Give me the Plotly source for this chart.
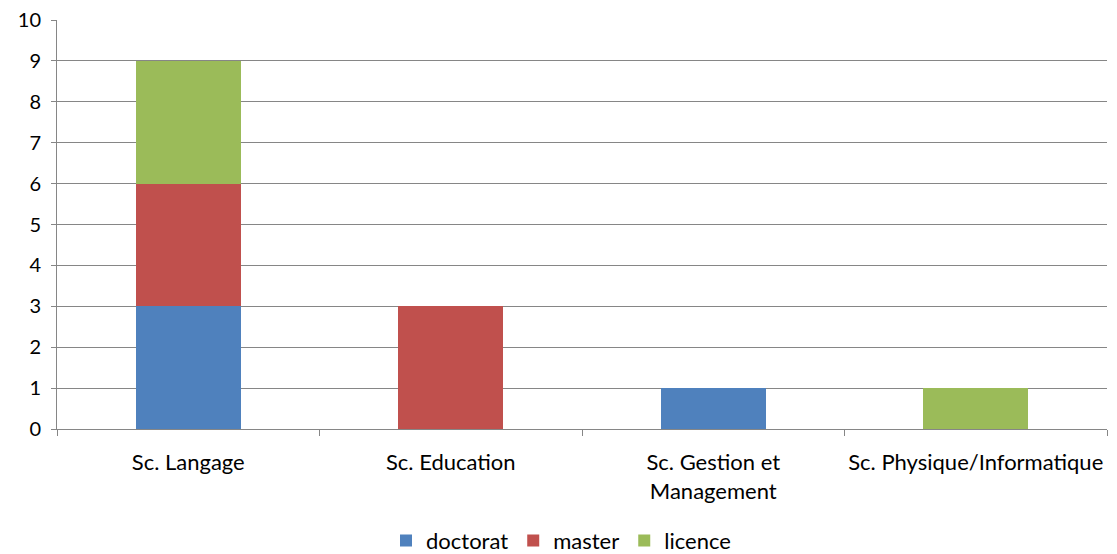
import plotly.graph_objects as go

categories = ["Sc. Langage", "Sc. Education", "Sc. Gestion et<br>Management", "Sc. Physique/Informatique"]
doctorat = [3, 0, 1, 0]
master = [3, 3, 0, 0]
licence = [3, 0, 0, 1]
y_ticks = list(range(0, 11))

series = [("doctorat", doctorat, "#4F81BD"), ("master", master, "#C0504D"), ("licence", licence, "#9BBB59")]

fig = go.Figure()
for name, vals, col in series:
    fig.add_trace(go.Bar(x=categories, y=vals, name=name, marker=dict(color=col, line=dict(width=0))))

font = dict(family="Lato, 'Open Sans', sans-serif", size=22, color="#000000")
yfont = dict(family="Lato, 'Open Sans', sans-serif", size=20, color="#000000")
fig.update_layout(
    barmode="stack",
    bargap=0.6,
    width=1109, height=546,
    margin=dict(l=49, r=10, t=12, b=125, autoexpand=False),
    plot_bgcolor="white", paper_bgcolor="white",
    font=font,
    legend=dict(orientation="h", x=0.48, xanchor="center", y=-0.222, yanchor="top", font=font,
                traceorder="normal", itemwidth=30, tracegroupgap=0),
    xaxis=dict(type="category", tickson="boundaries", ticks="outside", ticklen=6, tickcolor="#868686",
               showline=True, linecolor="#868686", linewidth=1, showgrid=False, tickfont=font,
               tickangle=0, ticklabelstandoff=14, automargin=False),
    yaxis=dict(range=[0, 10], tickvals=y_ticks, ticks="outside", ticklen=5, tickcolor="#868686",
               showline=True, linecolor="#868686", linewidth=1, showgrid=True, gridcolor="#868686",
               gridwidth=1, zeroline=False, tickfont=yfont, automargin=False, ticklabelstandoff=6,
               ticklabeloverflow="allow"),
)
fig.write_html("out.html")
